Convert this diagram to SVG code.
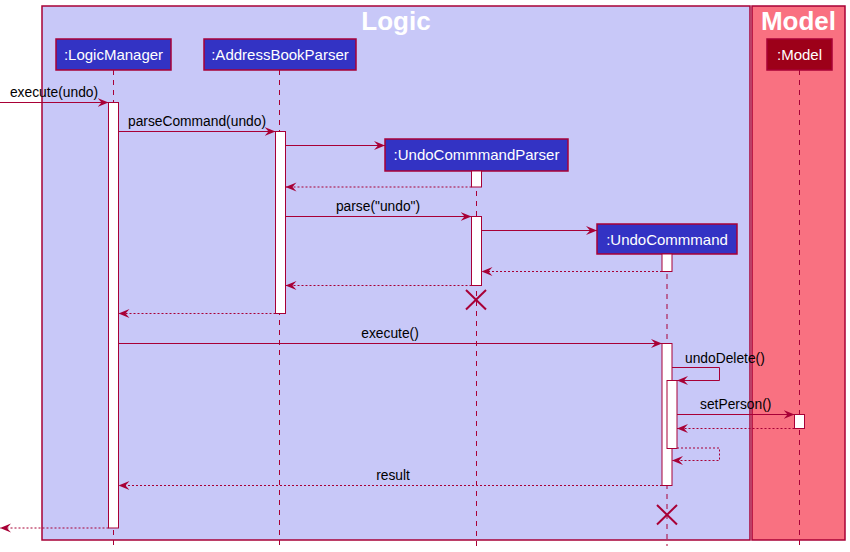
<svg xmlns="http://www.w3.org/2000/svg" width="850" height="552" viewBox="0 0 850 552">
<style>
.box{stroke:#A80036;stroke-width:1.5}
.part{fill:#3333C4;stroke:#A80036;stroke-width:1.5}
.ptext{font-family:"Liberation Sans",Arial,sans-serif;font-size:15px;fill:#FFFFFF;text-anchor:middle}
.title{font-family:"Liberation Sans",Arial,sans-serif;font-size:26px;font-weight:bold;fill:#FFFFFF;text-anchor:middle}
.life{stroke:#A80036;stroke-width:1;stroke-dasharray:5,5;fill:none}
.act{fill:#FFFFFF;stroke:#A80036;stroke-width:1}
.msg{stroke:#A80036;stroke-width:1;fill:none;marker-end:url(#arr)}
.ret{stroke:#A80036;stroke-width:1;fill:none;stroke-dasharray:2,2;marker-end:url(#arr)}
.lbl{font-family:"Liberation Sans",Arial,sans-serif;font-size:13.8px;fill:#000000;text-anchor:middle}
.x{stroke:#A80036;stroke-width:2}
</style>
<defs>
<marker id="arr" viewBox="0 0 12 10" refX="11" refY="5" markerWidth="12" markerHeight="10" markerUnits="userSpaceOnUse" orient="auto">
<path d="M0,0.5 L11,5 L0,9.5 L4,5 Z" fill="#A80036"/>
</marker>
</defs>
<g id="box-logic">
<rect class="box" x="42" y="6" width="708" height="534" fill="#C8C8F8"/>
<text class="title" x="396" y="30">Logic</text>
</g>
<g id="box-model">
<rect class="box" x="752" y="6" width="93" height="534" fill="#F97181"/>
<text class="title" x="798.5" y="30">Model</text>
</g>
<g id="lifelines">
<line class="life" x1="113.5" y1="70" x2="113.5" y2="546"/>
<line class="life" x1="279.5" y1="70" x2="279.5" y2="546"/>
<line class="life" x1="476.5" y1="171" x2="476.5" y2="546"/>
<line class="life" x1="667" y1="254" x2="667" y2="546"/>
<line class="life" x1="799.5" y1="70" x2="799.5" y2="546"/>
</g>
<g id="LogicManager">
<rect class="part" x="56" y="39" width="115" height="31"/>
<text class="ptext" x="113.5" y="60">:LogicManager</text>
<rect class="act" x="108.5" y="102.5" width="10" height="425.5"/>
</g>
<g id="AddressBookParser">
<rect class="part" x="204" y="39" width="152" height="31"/>
<text class="ptext" x="280" y="60">:AddressBookParser</text>
<rect class="act" x="275.5" y="131.5" width="10" height="182"/>
</g>
<g id="UndoCommmandParser">
<rect class="part" x="385" y="139" width="183" height="32"/>
<text class="ptext" x="476.5" y="160">:UndoCommmandParser</text>
<rect class="act" x="471.5" y="171" width="10" height="16"/>
<rect class="act" x="471.5" y="216.5" width="10" height="69"/>
<line class="x" x1="466" y1="290" x2="486" y2="309.5"/>
<line class="x" x1="486" y1="290" x2="466" y2="309.5"/>
</g>
<g id="UndoCommmand">
<rect class="part" x="597" y="224" width="140" height="30"/>
<text class="ptext" x="667" y="245">:UndoCommmand</text>
<rect class="act" x="662" y="254" width="10" height="17.5"/>
<rect class="act" x="662" y="343.5" width="10" height="142"/>
<rect class="act" x="667" y="380.5" width="10" height="68"/>
<line class="x" x1="657" y1="505" x2="677" y2="524.5"/>
<line class="x" x1="677" y1="505" x2="657" y2="524.5"/>
</g>
<g id="Model">
<rect class="part" x="767" y="39" width="65" height="31" style="fill:#9D0019"/>
<text class="ptext" x="799.5" y="60">:Model</text>
<rect class="act" x="794.5" y="414.5" width="10" height="14"/>
</g>
<g id="connectors">
<line class="msg" x1="0" y1="102.5" x2="108.5" y2="102.5"/>
<text class="lbl" x="54" y="97">execute(undo)</text>
<line class="msg" x1="118.5" y1="131.5" x2="275.5" y2="131.5"/>
<text class="lbl" x="197" y="126">parseCommand(undo)</text>
<line class="msg" x1="285.5" y1="145.5" x2="385" y2="145.5"/>
<line class="ret" x1="471.5" y1="187" x2="285.5" y2="187"/>
<line class="msg" x1="285.5" y1="216.5" x2="471.5" y2="216.5"/>
<text class="lbl" x="378" y="211">parse("undo")</text>
<line class="msg" x1="481.5" y1="230.5" x2="597" y2="230.5"/>
<line class="ret" x1="662" y1="271.5" x2="481.5" y2="271.5"/>
<line class="ret" x1="471.5" y1="285.5" x2="285.5" y2="285.5"/>
<line class="ret" x1="275.5" y1="313.5" x2="118.5" y2="313.5"/>
<line class="msg" x1="118.5" y1="343.5" x2="662" y2="343.5"/>
<text class="lbl" x="390" y="338">execute()</text>
<path class="msg" d="M672,367.5 H719.5 V380.5 H677"/>
<text class="lbl" x="685" y="363" style="text-anchor:start">undoDelete()</text>
<line class="msg" x1="677" y1="414.5" x2="794.5" y2="414.5"/>
<text class="lbl" x="735.7" y="409">setPerson()</text>
<line class="ret" x1="794.5" y1="428.5" x2="677" y2="428.5"/>
<path class="ret" d="M677,448 H719.5 V460.5 H672"/>
<line class="ret" x1="662" y1="485.5" x2="118.5" y2="485.5"/>
<text class="lbl" x="393" y="480">result</text>
<line class="ret" x1="108.5" y1="528" x2="0" y2="528"/>
</g>
</svg>
